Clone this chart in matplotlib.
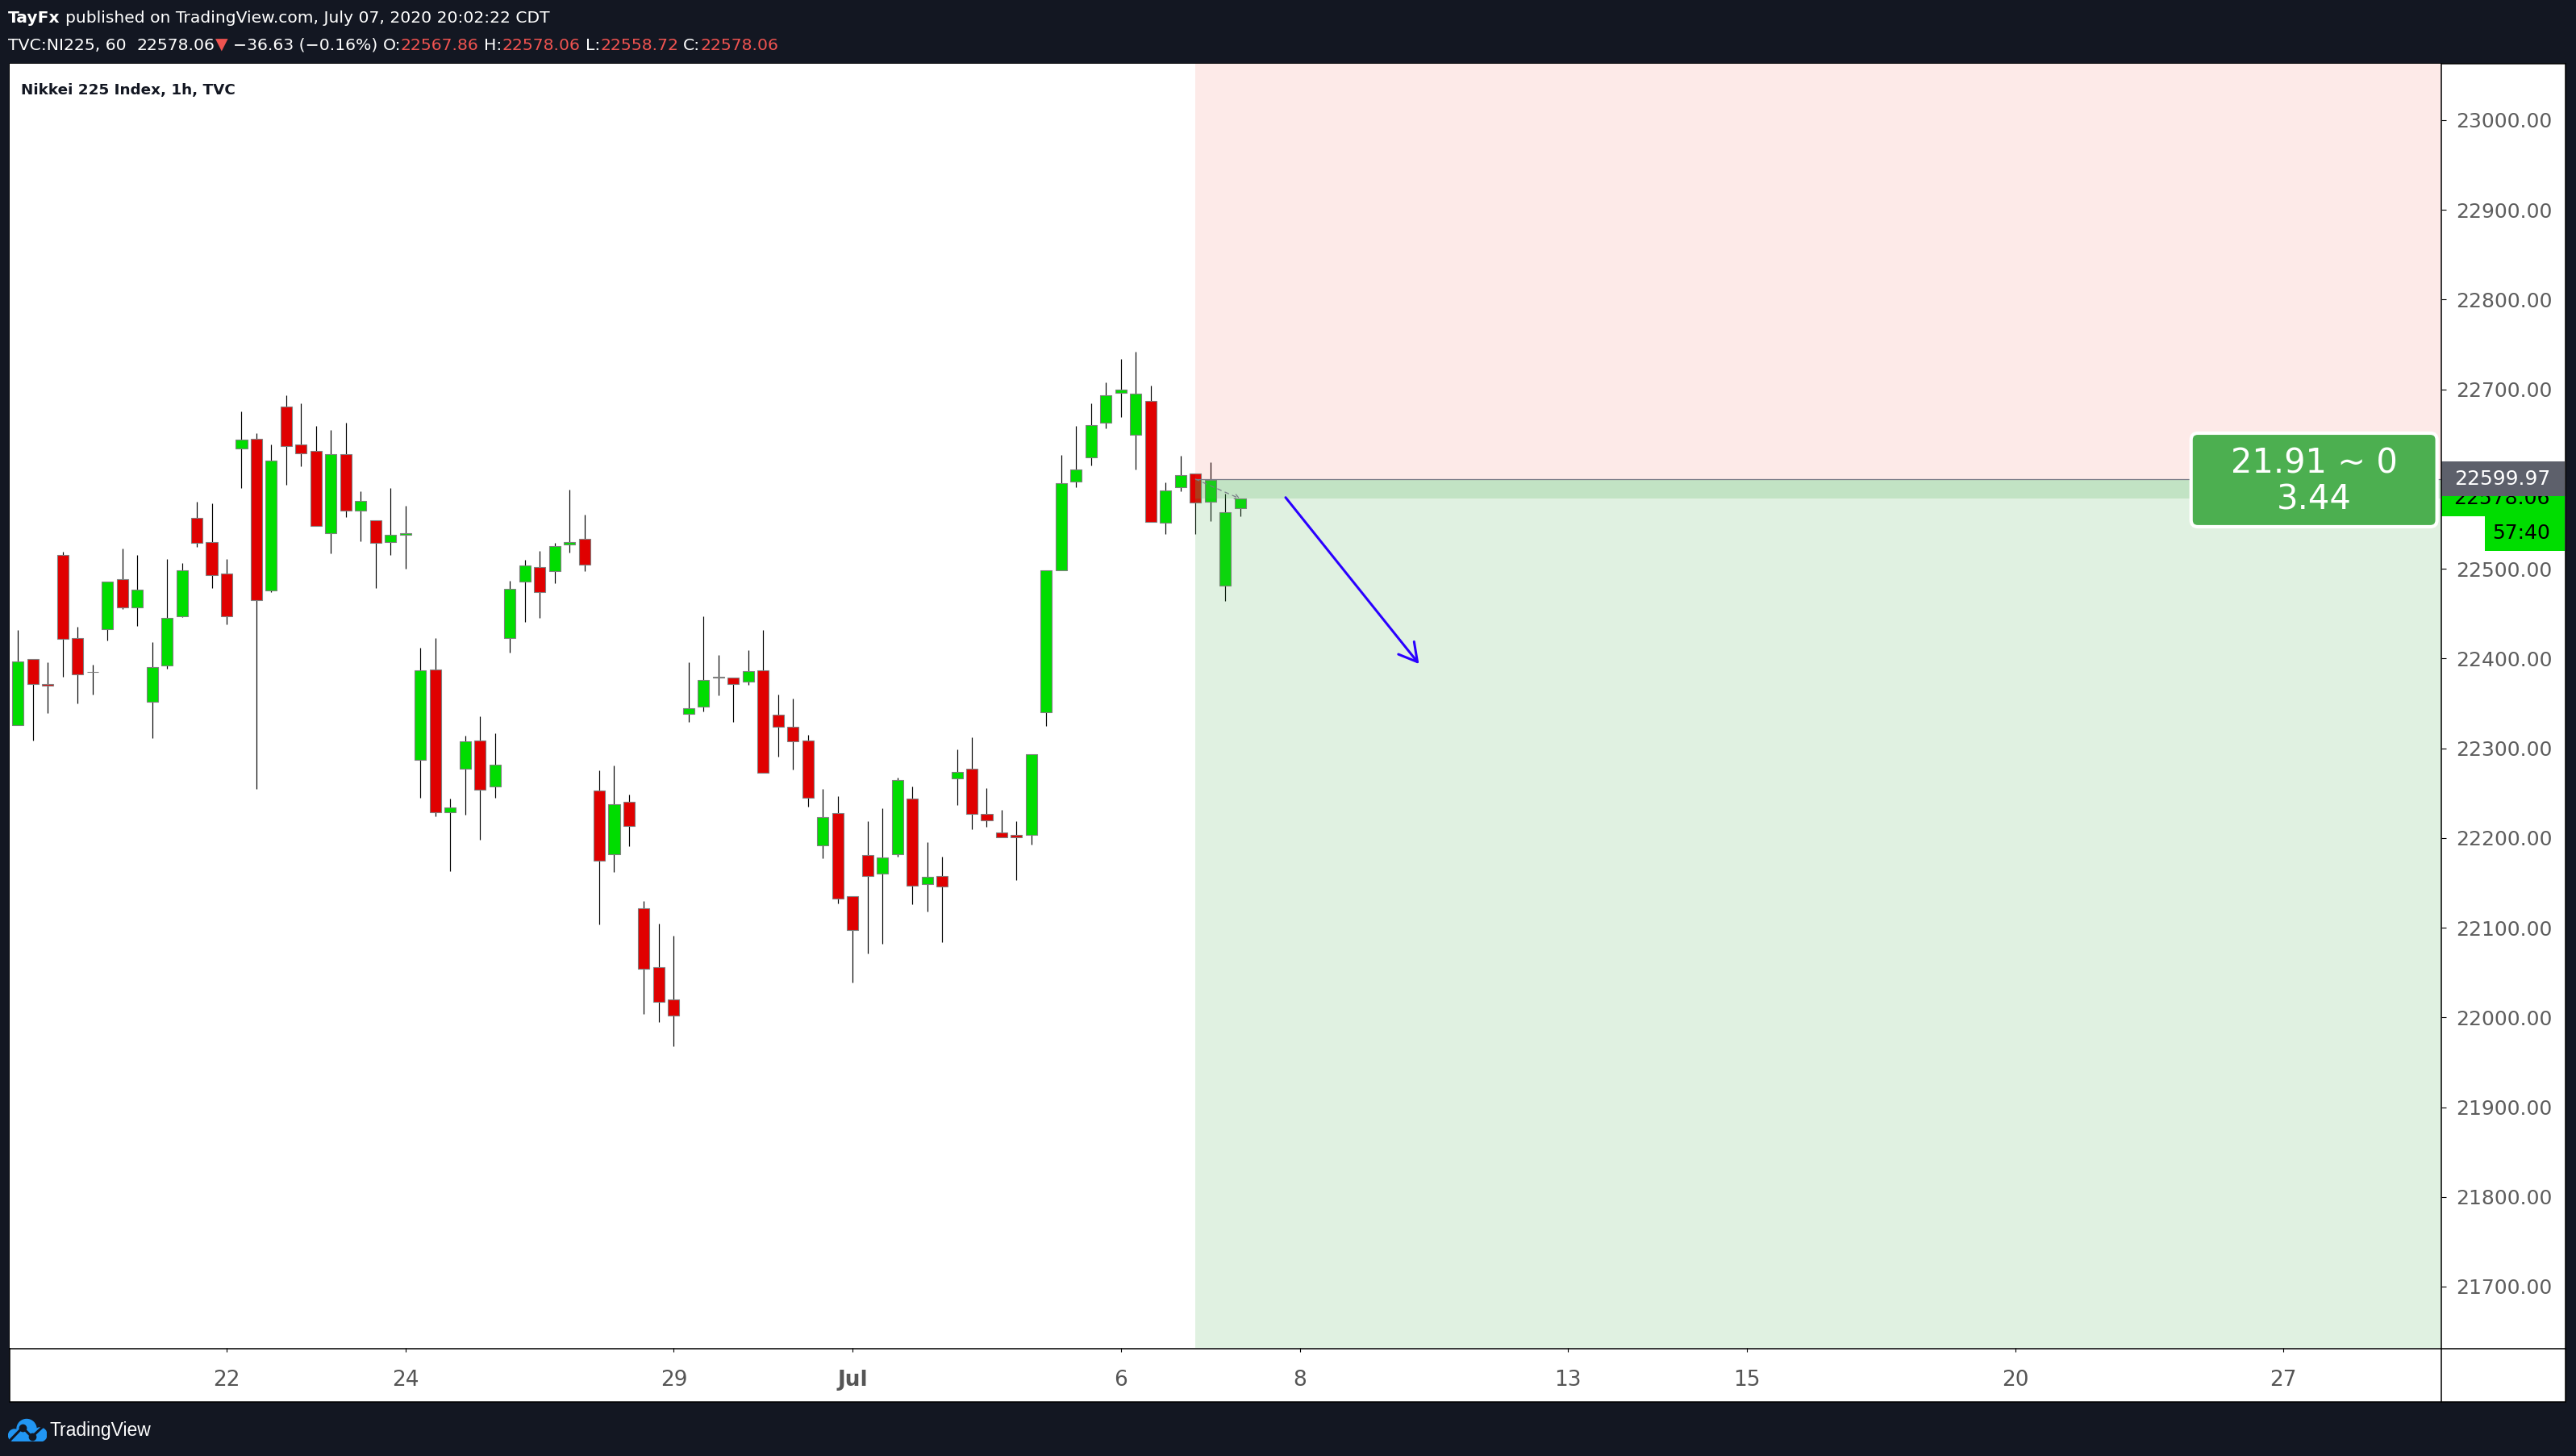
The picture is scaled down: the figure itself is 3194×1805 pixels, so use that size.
import matplotlib
matplotlib.use("Agg")
import matplotlib.pyplot as plt
import matplotlib.transforms as mtransforms
from matplotlib.patches import Rectangle, FancyBboxPatch, Circle
from matplotlib.lines import Line2D


# hourly bars, index 0 = first bar under the "22" label
bar_index = list(range(-14, 69))
opens = [22326, 22399, 22372, 22515, 22423, 22385, 22433, 22488, 22457, 22352,
         22392, 22447, 22557, 22530, 22495, 22634, 22645, 22476, 22681, 22639,
         22631, 22540, 22628, 22565, 22554, 22530, 22538, 22287, 22388, 22229,
         22277, 22309, 22257, 22423, 22486, 22502, 22497, 22527, 22533, 22253,
         22182, 22240, 22122, 22056, 22020, 22338, 22346, 22379, 22379, 22374,
         22387, 22337, 22324, 22309, 22192, 22228, 22135, 22181, 22160, 22182,
         22244, 22149, 22158, 22266, 22277, 22227, 22206, 22203, 22203, 22340,
         22498, 22597, 22624, 22663, 22696, 22649, 22687, 22551, 22591, 22606,
         22575, 22481, 22567.86]
highs = [22432, 22399, 22396, 22519, 22435, 22393, 22486, 22523, 22515, 22418,
         22511, 22506, 22575, 22573, 22511, 22675, 22651, 22639, 22693, 22684,
         22659, 22655, 22663, 22586, 22554, 22590, 22570, 22412, 22423, 22244,
         22314, 22336, 22317, 22487, 22510, 22520, 22529, 22588, 22560, 22275,
         22281, 22248, 22130, 22105, 22091, 22396, 22447, 22404, 22379, 22409,
         22432, 22360, 22355, 22315, 22255, 22247, 22135, 22219, 22233, 22267,
         22257, 22195, 22179, 22299, 22312, 22256, 22231, 22219, 22293, 22498,
         22627, 22659, 22684, 22708, 22734, 22742, 22704, 22596, 22626, 22606,
         22619, 22584, 22578.06]
lows = [22326, 22309, 22339, 22380, 22350, 22360, 22420, 22455, 22436, 22311,
        22389, 22446, 22524, 22479, 22438, 22590, 22255, 22474, 22594, 22614,
        22548, 22517, 22558, 22531, 22479, 22515, 22500, 22245, 22224, 22163,
        22226, 22198, 22245, 22407, 22441, 22445, 22484, 22518, 22497, 22104,
        22162, 22191, 22004, 21995, 21968, 22329, 22341, 22359, 22329, 22371,
        22273, 22291, 22276, 22235, 22177, 22127, 22039, 22071, 22082, 22179,
        22126, 22118, 22084, 22237, 22210, 22212, 22201, 22153, 22193, 22325,
        22498, 22591, 22615, 22657, 22669, 22611, 22552, 22539, 22586, 22539,
        22553, 22464, 22558.72]
closes = [22397, 22372, 22370, 22422, 22382, 22385, 22486, 22457, 22477, 22390,
          22445, 22498, 22529, 22493, 22447, 22644, 22465, 22621, 22637, 22629,
          22548, 22628, 22565, 22576, 22529, 22538, 22540, 22387, 22229, 22234,
          22308, 22254, 22282, 22478, 22504, 22474, 22525, 22530, 22505, 22175,
          22238, 22213, 22054, 22017, 22002, 22345, 22376, 22380, 22372, 22386,
          22273, 22324, 22308, 22245, 22223, 22132, 22097, 22158, 22178, 22265,
          22147, 22157, 22146, 22274, 22227, 22220, 22201, 22200.5, 22293, 22498,
          22595, 22611, 22660, 22693, 22700, 22695, 22552, 22587, 22604, 22574,
          22599, 22563, 22578.06]

date_ticks = [0, 12, 30, 42, 60, 72, 90, 102, 120, 138]
date_labels = ['22', '24', '29', 'Jul', '6', '8', '13', '15', '20', '27']
price_ticks = list(range(21700, 23001, 100))

# short position tool
entry_price = 22599.97
last_price = 22578.06
stop_price = 23150
target_price = 20850
position_start = 65
position_label = '21.91 ~ 0'
position_ratio = '3.44'
countdown = '57:40'

arrow_start = (71.05, 22579.5)
arrow_end = (80.0, 22394.0)

W, H = 3194, 1805
BG = '#131722'
UP = '#00dd00'
DOWN = '#e00000'
HRED = '#ef5350'
hfont = ['DejaVu Sans']


def fx(px):
    return px / W


def fy(py):
    return 1 - py / H


fig = plt.figure(figsize=(W / 100, H / 100), dpi=100, facecolor=BG)
renderer = fig.canvas.get_renderer()

panel = Rectangle((fx(12), fy(1738)), fx(3181) - fx(12), fy(79) - fy(1738),
                  transform=fig.transFigure, facecolor='white',
                  edgecolor='black', lw=1.1, zorder=-1)
fig.add_artist(panel)

ax = fig.add_axes([fx(12), fy(1671), fx(3027) - fx(12), fy(79) - fy(1671)])
ax.set_facecolor('white')
ax.set_xlim(-14.556, 148.59)
ax.set_ylim(21631.66, 23062.93)
for sp in ax.spines.values():
    sp.set_visible(False)

# candles
for x, o, h, l, c in zip(bar_index, opens, highs, lows, closes):
    col = UP if c >= o else DOWN
    ax.vlines(x, l, h, color='black', lw=0.85, zorder=2)
    ax.add_patch(Rectangle((x - 0.38, min(o, c)), 0.76, abs(c - o),
                           facecolor=col, edgecolor='#808080', lw=0.8,
                           zorder=3))

# position zones
ax.add_patch(Rectangle((position_start, entry_price), 300,
                       stop_price - entry_price, facecolor='#f44336',
                       alpha=0.11, lw=0, zorder=4))
ax.add_patch(Rectangle((position_start, target_price), 300,
                       entry_price - target_price, facecolor='#4caf50',
                       alpha=0.17, lw=0, zorder=4))
ax.add_patch(Rectangle((position_start, last_price), 300,
                       entry_price - last_price, facecolor='#4caf50',
                       alpha=0.2, lw=0, zorder=4))
ax.hlines(entry_price, position_start, 300, color='#787b86', lw=0.9, zorder=4)
ax.annotate('', xy=(bar_index[-1], last_price),
            xytext=(position_start, entry_price),
            arrowprops=dict(arrowstyle='->', color='#787b86', lw=0.9,
                            linestyle=(0, (4, 4)), mutation_scale=10,
                            shrinkA=0, shrinkB=0), zorder=5)

# hand drawn arrow
ax.annotate('', xy=arrow_end, xytext=arrow_start,
            arrowprops=dict(arrowstyle='->,head_length=0.8,head_width=0.45',
                            color='#2a00ff', lw=2.2, mutation_scale=20,
                            shrinkA=0, shrinkB=0), zorder=6)

# position label box
px_per_price = (fy(79) - fy(1671)) * H / (23062.93 - 21631.66)
px_per_bar = (fx(3027) - fx(12)) * W / (148.59 + 14.556)
box = FancyBboxPatch((131.8, 22546.9), 16.5, 104.3,
                     boxstyle='round,pad=0,rounding_size=0.45',
                     mutation_aspect=px_per_bar / px_per_price,
                     facecolor='#4caf50', edgecolor='white', lw=3, zorder=7)
ax.add_patch(box)
ax.text(140.04, 22606.5, position_label, ha='center', va='baseline',
        fontsize=30, color='white', zorder=8)
ax.text(140.04, 22566.0, position_ratio, ha='center', va='baseline',
        fontsize=30, color='white', zorder=8)

# axes ticks
ax.set_xticks(date_ticks)
ax.set_xticklabels(date_labels)
ax.get_xticklabels()[3].set_fontweight('bold')
ax.tick_params(axis='x', length=3.6, width=0.8, pad=15.5, labelsize=19,
               labelcolor='#555555', color='black')
ax.yaxis.tick_right()
ax.set_yticks(price_ticks)
ax.set_yticklabels([f'{p:.2f}' for p in price_ticks])
ax.tick_params(axis='y', length=4.3, width=0.8, pad=8.6, labelsize=18,
               labelcolor='#5d5d5d', color='black')

# price tags on the scale
trans = mtransforms.blended_transform_factory(ax.transAxes, ax.transData)
ax_w = (fx(3027) - fx(12)) * W
tag_h = 43 / px_per_price
tag_r = (3180 - 12) / ax_w
text_r = (3162 - 12) / ax_w
ax.add_patch(Rectangle((1.0, last_price - tag_h / 2), tag_r - 1, tag_h,
                       transform=trans, facecolor=UP, lw=0, clip_on=False,
                       zorder=9))
ax.text(text_r, last_price, f'{last_price:.2f}', transform=trans, ha='right',
        va='center', fontsize=18, color='black', clip_on=False, zorder=9.5)
ax.add_patch(Rectangle((1.0, entry_price - tag_h / 2), tag_r - 1, tag_h,
                       transform=trans, facecolor='#5d606b', lw=0,
                       clip_on=False, zorder=10))
ax.text(text_r, entry_price, f'{entry_price:.2f}', transform=trans,
        ha='right', va='center', fontsize=18, color='white', clip_on=False,
        zorder=10.5)
cd_left = (3081 - 12) / ax_w
cd_top = last_price - tag_h / 2
ax.add_patch(Rectangle((cd_left, cd_top - tag_h), tag_r - cd_left, tag_h,
                       transform=trans, facecolor=UP, lw=0, clip_on=False,
                       zorder=9))
ax.text(text_r, cd_top - tag_h / 2, countdown, transform=trans, ha='right',
        va='center', fontsize=18, color='black', clip_on=False, zorder=9.5)

# frame lines
fig.add_artist(Line2D([fx(12), fx(3181)], [fy(1672), fy(1672)],
                      transform=fig.transFigure, color='black', lw=1.1,
                      zorder=5))
fig.add_artist(Line2D([fx(3027), fx(3027)], [fy(79), fy(1738)],
                      transform=fig.transFigure, color='black', lw=1.1,
                      zorder=5))


def text_width(s, **kw):
    t = fig.text(0, 0, '|' + s + '|', **kw)
    w1 = t.get_window_extent(renderer).width
    t.set_text('||')
    w2 = t.get_window_extent(renderer).width
    t.remove()
    return w1 - w2


def draw_runs(x_px, base_px, runs, size, family=hfont):
    for s, color, weight in runs:
        kw = dict(fontsize=size, fontweight=weight, family=family)
        lead = len(s) - len(s.lstrip())
        start = x_px + (text_width(s[:lead], **kw) if lead else 0)
        fig.text(fx(start), fy(base_px), s.strip(), color=color,
                 ha='left', va='baseline', **kw)
        x_px += text_width(s, **kw)


draw_runs(10, 28, [('TayFx', 'white', 'bold'),
                   (' published on TradingView.com, July 07, 2020 20:02:22 CDT',
                    'white', 'normal')], 14.6)
draw_runs(10, 62, [('TVC:NI225, 60', 'white', 'normal'),
                   ('  22578.06', 'white', 'normal'),
                   ('\u25bc', HRED, 'normal'),
                   (' \u221236.63 (\u22120.16%)', 'white', 'normal'),
                   (' O:', 'white', 'normal'), ('22567.86', HRED, 'normal'),
                   (' H:', 'white', 'normal'), ('22578.06', HRED, 'normal'),
                   (' L:', 'white', 'normal'), ('22558.72', HRED, 'normal'),
                   (' C:', 'white', 'normal'), ('22578.06', HRED, 'normal')],
          14.7)
draw_runs(26, 117, [('Nikkei 225 Index, 1h, TVC', '#131722', 'bold')], 13.2)

# TradingView logo
lax = fig.add_axes([fx(10), fy(1787), fx(58) - fx(10), fy(1757) - fy(1787)])
lax.set_xlim(0, 48)
lax.set_ylim(0, 30)
lax.axis('off')
blue = '#2196f3'
lax.add_patch(Circle((23, 15.5), 12, color=blue))
lax.add_patch(Circle((8, 7.5), 7.5, color=blue))
lax.add_patch(Circle((39.5, 8.5), 8.5, color=blue))
lax.add_patch(Rectangle((6, 0), 36, 10, color=blue))
lax.plot([2.5, 18, 29.5, 47], [1.5, 17.4, 5.7, 22], color=BG, lw=2.2,
         solid_capstyle='round')
lax.plot([18, 29.5], [17.4, 5.7], 'o', color=BG, ms=6)
fig.text(fx(62), fy(1780), 'TradingView', color='white', fontsize=16.5,
         family=['Liberation Sans', 'DejaVu Sans'], ha='left', va='baseline')

fig.savefig('out.png', dpi=100, facecolor=BG)
